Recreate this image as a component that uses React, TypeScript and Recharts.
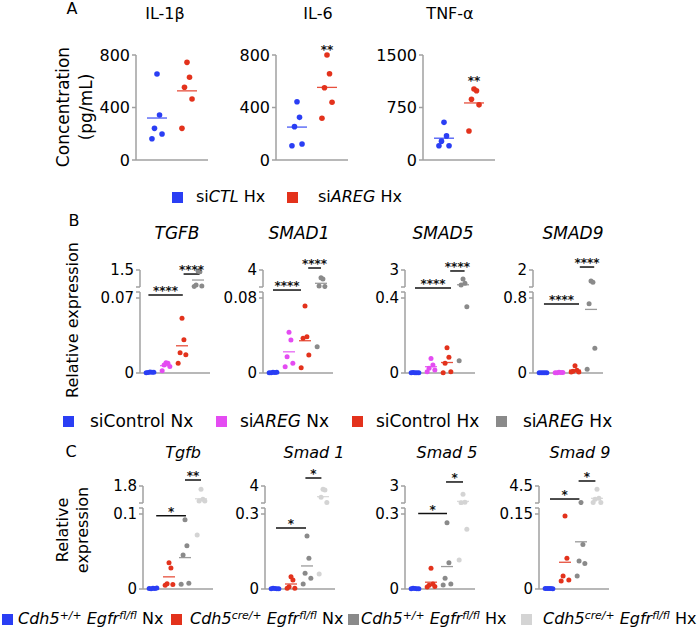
import React from 'react';
import { ScatterChart, Scatter, XAxis, YAxis, ReferenceLine, ReferenceDot } from 'recharts';

const FONT = "'DejaVu Sans', 'Liberation Sans', sans-serif";
const BLUE = '#2a3ef4';
const RED = '#e3321c';
const MAGENTA = '#e44cf2';
const GRAY = '#8a8a8a';
const LIGHT = '#d4d4d4';
const AXIS = '#a0a0a0';

// ---- Panel A: cytokines (pg/mL), siCTL Hx vs siAREG Hx
const IL1B_CTL = [655, 343, 241, 198, 162];
const IL1B_AREG = [744, 630, 554, 465, 241];
const IL6_CTL = [444, 325, 254, 122, 109];
const IL6_AREG = [800, 657, 551, 440, 318];
const TNF_CTL = [538, 344, 269, 203, 203];
const TNF_AREG = [1014, 990, 868, 788, 415];

// ---- Panel B: siControl Nx, siAREG Nx, siControl Hx, siAREG Hx
const TGFB_B = [
  [0.0009, 0.0006, 0.0004, 0.0007, 0.0003],
  [0.0096, 0.009, 0.0075, 0.006, 0.0022],
  [0.051, 0.031, 0.019, 0.017, 0.009],
  [1.416, 1.357, 0.238, 0.154, 0.112],
];
const SMAD1_B = [
  [0.0009, 0.0006, 0.0004, 0.0007, 0.0003],
  [0.0434, 0.0352, 0.0174, 0.0103, 0.0067],
  [0.0715, 0.0387, 0.037, 0.0192, 0.0057],
  [2.22, 1.92, 0.31, 0.19, 0.028],
];
const SMAD5_B = [
  [0.002, 0.001, 0.003, 0.0015, 0.001],
  [0.078, 0.043, 0.025, 0.016, 0.007],
  [0.135, 0.084, 0.052, 0.007, 0.002],
  [1.62, 0.97, 0.71, 0.354, 0.066],
];
const SMAD9_B = [
  [0.003, 0.002, 0.004, 0.002, 0.003],
  [0.008, 0.006, 0.004, 0.005, 0.003],
  [0.078, 0.03, 0.02, 0.012, 0.01],
  [1.22, 1.13, 0.74, 0.263, 0.039],
];

// ---- Panel C: Cdh5+/+ Nx, Cdh5cre/+ Nx, Cdh5+/+ Hx, Cdh5cre/+ Hx
const TGFB_C = [
  [0.001, 0.0008, 0.0005, 0.0012, 0.0006],
  [0.035, 0.028, 0.007, 0.006, 0.005],
  [0.0924, 0.0577, 0.0453, 0.0076, 0.0063],
  [1.47, 0.47, 0.3, 0.3, 0.072],
];
const SMAD1_C = [
  [0.002, 0.001, 0.003, 0.0015, 0.001],
  [0.049, 0.036, 0.009, 0.003, 0.003],
  [0.212, 0.123, 0.063, 0.043, 0.02],
  [3.28, 3.13, 1.54, 0.41, 0.06],
];
const SMAD5_C = [
  [0.002, 0.001, 0.003, 0.0015, 0.001],
  [0.083, 0.02, 0.015, 0.01, 0.008],
  [0.265, 0.105, 0.043, 0.02, 0.016],
  [1.68, 0.41, 0.33, 0.239, 0.116],
];
const SMAD9_C = [
  [0.001, 0.0008, 0.0012, 0.0006, 0.001],
  [0.146, 0.0614, 0.026, 0.018, 0.016],
  [0.25, 0.089, 0.056, 0.051, 0.026],
  [3.66, 1.35, 1.1, 0.28, 0.28],
];

// significance bars (group span, height in data units, upper/lower segment)
type Sig = { from: number; to: number; y: number; hi: boolean; label: string };
const TGFB_B_SIG: Sig[] = [
  { from: -0.1, to: 2.05, y: 0.0728, hi: false, label: '****' },
  { from: 2.1, to: 3.1, y: 1.16, hi: true, label: '****' },
];
const SMAD1_B_SIG: Sig[] = [
  { from: 0, to: 1.75, y: 0.0885, hi: false, label: '****' },
  { from: 2.2, to: 3.0, y: 4.46, hi: true, label: '****' },
];
const SMAD5_B_SIG: Sig[] = [
  { from: 0, to: 2.25, y: 0.453, hi: false, label: '****' },
  { from: 2.2, to: 3.1, y: 2.85, hi: true, label: '****' },
];
const SMAD9_B_SIG: Sig[] = [
  { from: 0.06, to: 2.25, y: 0.736, hi: false, label: '****' },
  { from: 2.3, to: 3.2, y: 2.21, hi: true, label: '****' },
];
const TGFB_C_SIG: Sig[] = [
  { from: 0.2, to: 2.06, y: 0.0977, hi: false, label: '*' },
  { from: 2.0, to: 3.0, y: 2.4, hi: true, label: '**' },
];
const SMAD1_C_SIG: Sig[] = [
  { from: 0.06, to: 1.94, y: 0.244, hi: false, label: '*' },
  { from: 1.9, to: 2.9, y: 5.74, hi: true, label: '*' },
];
const SMAD5_C_SIG: Sig[] = [
  { from: 0.2, to: 2.0, y: 0.302, hi: false, label: '*' },
  { from: 1.94, to: 3.0, y: 3.64, hi: true, label: '*' },
];
const SMAD9_C_SIG: Sig[] = [
  { from: 0.06, to: 1.9, y: 1.17, hi: true, label: '*' },
  { from: 1.85, to: 2.9, y: 5.78, hi: true, label: '*' },
];

const B_COLORS = [BLUE, MAGENTA, RED, GRAY];
const C_COLORS = [BLUE, RED, GRAY, LIGHT];

// layout
const JITTER = [0, 0.12, -0.12, 0.24, -0.24];
const A_YW = 46;
const A_PW = 72;
const A_XDOM = [-0.7, 1.7];
const B_YW = 46;
const B_PW = 70;
const B_XDOM = [-0.625, 3.75];
const LOW_EXT = 81 / 75;

const mean = (v: number[]) => v.reduce((s, x) => s + x, 0) / v.length;

const dotShape = (color: string, r: number) => (p: any) => (
  <circle cx={p.cx} cy={p.cy} r={r} fill={color} />
);
const meanShape = (color: string, w: number) => (p: any) => (
  <line x1={p.cx - w / 2} x2={p.cx + w / 2} y1={p.cy} y2={p.cy} stroke={color} strokeWidth={1.3} opacity={0.85} />
);
const starShape = (label: string) => (p: any) => (
  <text x={p.cx} y={p.cy} dy="0.56em" textAnchor="middle" fontSize={12} fontWeight={700} fill="#111">
    {label}
  </text>
);

const axisStyle = { stroke: AXIS, strokeWidth: 1.5 };

function CytokinePanel({ axisX, ctl, areg, max, ticks, star }: { axisX: number; ctl: number[]; areg: number[]; max: number; ticks: number[]; star: number | null }) {
  const series = [ctl, areg];
  const colors = [BLUE, RED];
  return (
    <div style={{ position: 'absolute', left: axisX - A_YW, top: 30 }}>
      <ScatterChart width={A_YW + A_PW + 6} height={145} margin={{ top: 25, right: 6, bottom: 14, left: 0 }}>
        <XAxis type="number" dataKey="x" domain={A_XDOM} tick={false} tickLine={false} axisLine={axisStyle} height={1} />
        <YAxis type="number" dataKey="y" domain={[0, max]} ticks={ticks} interval={0} width={A_YW} tickSize={4} tickMargin={2}
          tick={{ fontSize: 16, fill: '#000' }} axisLine={axisStyle} tickLine={axisStyle} />
        {series.map((vals, g) => (
          <Scatter key={'d' + g} data={vals.map((v, i) => ({ x: g + JITTER[i] * 0.7, y: v }))} shape={dotShape(colors[g], 2.8)} isAnimationActive={false} />
        ))}
        {series.map((vals, g) => (
          <Scatter key={'m' + g} data={[{ x: g, y: mean(vals) }]} shape={meanShape(colors[g], 20)} isAnimationActive={false} />
        ))}
        {star !== null && <ReferenceDot x={1} y={star} ifOverflow="visible" shape={starShape('**')} />}
      </ScatterChart>
    </div>
  );
}

function BrokenPanel({ axisX, top, lowMax, topVal, groups, colors, sigs }: { axisX: number; top: number; lowMax: number; topVal: number; groups: number[][]; colors: string[]; sigs: Sig[] }) {
  const domTop = lowMax * LOW_EXT;
  const width = B_YW + B_PW + 6;
  const pts = groups.map((vals, g) => vals.map((v, i) => ({ x: g + JITTER[i], y: v })));
  const means = groups.map((vals, g) => ({ x: g, y: mean(vals) }));
  const yCommon = {
    type: 'number' as const, dataKey: 'y', interval: 0 as const, width: B_YW, tickSize: 4, tickMargin: 2,
    tick: { fontSize: 15, fill: '#000' }, axisLine: axisStyle, tickLine: axisStyle,
  };
  const sigLine = (s: Sig, k: number) => (
    <ReferenceLine key={'s' + k} segment={[{ x: s.from, y: s.y }, { x: s.to, y: s.y }]} ifOverflow="visible"
      stroke="#111" strokeWidth={1.5}
      label={{ value: s.label, position: 'top', offset: 0, fontSize: 12, fontWeight: 700, fill: '#111' }} />
  );
  return (
    <>
      <div style={{ position: 'absolute', left: axisX - B_YW, top: top - 25 }}>
        <ScatterChart width={width} height={44} margin={{ top: 25, right: 6, bottom: 2, left: 0 }}>
          <XAxis type="number" dataKey="x" domain={B_XDOM} hide />
          <YAxis {...yCommon} domain={[lowMax, topVal]} ticks={[lowMax, topVal]} tickFormatter={(v: number) => (v < topVal ? '' : String(v))} />
          {pts.map((p, g) => (
            <Scatter key={'d' + g} data={p.filter((d) => d.y > domTop)} shape={dotShape(colors[g], 2.5)} isAnimationActive={false} />
          ))}
          {means.map((m, g) => (m.y > domTop ? (
            <Scatter key={'m' + g} data={[m]} shape={meanShape(colors[g], 12)} isAnimationActive={false} />
          ) : null))}
          {sigs.filter((s) => s.hi).map(sigLine)}
        </ScatterChart>
      </div>
      <div style={{ position: 'absolute', left: axisX - B_YW, top }}>
        <ScatterChart width={width} height={118} margin={{ top: 22, right: 6, bottom: 14, left: 0 }}>
          <XAxis type="number" dataKey="x" domain={B_XDOM} tick={false} tickLine={false} axisLine={axisStyle} height={1} />
          <YAxis {...yCommon} domain={[0, domTop]} ticks={[0, lowMax, domTop]} tickFormatter={(v: number) => (v > lowMax ? '' : String(v))} />
          {pts.map((p, g) => (
            <Scatter key={'d' + g} data={p.filter((d) => d.y <= domTop)} shape={dotShape(colors[g], 2.5)} isAnimationActive={false} />
          ))}
          {means.map((m, g) => (m.y <= domTop ? (
            <Scatter key={'m' + g} data={[m]} shape={meanShape(colors[g], 12)} isAnimationActive={false} />
          ) : null))}
          {sigs.filter((s) => !s.hi).map(sigLine)}
        </ScatterChart>
      </div>
    </>
  );
}

function Txt({ x, y, size, italic, children }: { x: number; y: number; size: number; italic?: boolean; children: React.ReactNode }) {
  return (
    <div style={{ position: 'absolute', left: x, top: y, transform: 'translate(-50%,-50%)', fontSize: size, fontStyle: italic ? 'italic' : 'normal', whiteSpace: 'nowrap', lineHeight: 1 }}>
      {children}
    </div>
  );
}

function VLabel({ x, y, size, lines, gap }: { x: number; y: number; size: number; lines: string[]; gap: number }) {
  return (
    <div style={{ position: 'absolute', left: x, top: y, transform: 'translate(-50%,-50%) rotate(-90deg)', fontSize: size, whiteSpace: 'nowrap', lineHeight: `${gap}px`, textAlign: 'center' }}>
      {lines.map((l) => <div key={l}>{l}</div>)}
    </div>
  );
}

function LegendItem({ sq, tx, y, color, size, children }: { sq: number; tx: number; y: number; color: string; size: number; children: React.ReactNode }) {
  return (
    <>
      <div style={{ position: 'absolute', left: sq, top: y - 5.5, width: 11, height: 11, background: color }} />
      <div style={{ position: 'absolute', left: tx, top: y, transform: 'translateY(-50%)', fontSize: size, whiteSpace: 'nowrap', lineHeight: 1 }}>
        {children}
      </div>
    </>
  );
}

const Sup = ({ children }: { children: React.ReactNode }) => (
  <span style={{ fontSize: '0.68em', verticalAlign: '0.45em', lineHeight: 0, fontStyle: 'italic' }}>{children}</span>
);
const Geno = ({ cdh, hx }: { cdh: string; hx: string }) => (
  <>
    <i>Cdh5</i><Sup>{cdh}</Sup> <i>Egfr</i><Sup>fl/fl</Sup> {hx}
  </>
);

export default function App() {
  const B_TOP = 270;
  const C_TOP = 486;
  return (
    <div style={{ position: 'absolute', left: 0, top: 0, width: 700, height: 633, background: '#fff', fontFamily: FONT, color: '#000', overflow: 'hidden' }}>
      {/* Panel A */}
      <Txt x={72} y={9} size={16}>A</Txt>
      <Txt x={165} y={14} size={16}>IL-1β</Txt>
      <Txt x={318} y={14} size={16}>IL-6</Txt>
      <Txt x={450} y={14} size={16}>TNF-α</Txt>
      <VLabel x={75} y={107} size={17} lines={['Concentration', '(pg/mL)']} gap={23} />
      <CytokinePanel axisX={136} ctl={IL1B_CTL} areg={IL1B_AREG} max={800} ticks={[0, 400, 800]} star={null} />
      <CytokinePanel axisX={276} ctl={IL6_CTL} areg={IL6_AREG} max={800} ticks={[0, 400, 800]} star={861} />
      <CytokinePanel axisX={423} ctl={TNF_CTL} areg={TNF_AREG} max={1500} ticks={[0, 750, 1500]} star={1171} />
      <LegendItem sq={172} tx={196} y={197} color={BLUE} size={16}>si<i>CTL</i> Hx</LegendItem>
      <LegendItem sq={287} tx={318} y={197} color={RED} size={16}>si<i>AREG</i> Hx</LegendItem>

      {/* Panel B */}
      <Txt x={74} y={221} size={16}>B</Txt>
      <Txt x={177} y={233} size={17} italic>TGFB</Txt>
      <Txt x={299} y={233} size={17} italic>SMAD1</Txt>
      <Txt x={443} y={233} size={17} italic>SMAD5</Txt>
      <Txt x={573} y={233} size={17} italic>SMAD9</Txt>
      <VLabel x={73} y={320} size={16} lines={['Relative expression']} gap={20} />
      <BrokenPanel axisX={140} top={B_TOP} lowMax={0.07} topVal={1.5} groups={TGFB_B} colors={B_COLORS} sigs={TGFB_B_SIG} />
      <BrokenPanel axisX={263} top={B_TOP} lowMax={0.08} topVal={4} groups={SMAD1_B} colors={B_COLORS} sigs={SMAD1_B_SIG} />
      <BrokenPanel axisX={405} top={B_TOP} lowMax={0.4} topVal={3} groups={SMAD5_B} colors={B_COLORS} sigs={SMAD5_B_SIG} />
      <BrokenPanel axisX={533} top={B_TOP} lowMax={0.8} topVal={2} groups={SMAD9_B} colors={B_COLORS} sigs={SMAD9_B_SIG} />
      <LegendItem sq={63} tx={90} y={421} color={BLUE} size={17}>siControl Nx</LegendItem>
      <LegendItem sq={216} tx={240} y={421} color={MAGENTA} size={17}>si<i>AREG</i> Nx</LegendItem>
      <LegendItem sq={352} tx={376} y={421} color={RED} size={17}>siControl Hx</LegendItem>
      <LegendItem sq={496} tx={523} y={421} color={GRAY} size={17}>si<i>AREG</i> Hx</LegendItem>

      {/* Panel C */}
      <Txt x={71} y={452} size={16}>C</Txt>
      <Txt x={183} y={453} size={16} italic>Tgfb</Txt>
      <Txt x={314} y={453} size={16} italic>Smad 1</Txt>
      <Txt x={447} y={453} size={16} italic>Smad 5</Txt>
      <Txt x={580} y={453} size={16} italic>Smad 9</Txt>
      <VLabel x={73} y={530} size={16} lines={['Relative', 'expression']} gap={20} />
      <BrokenPanel axisX={143} top={C_TOP} lowMax={0.1} topVal={1.8} groups={TGFB_C} colors={C_COLORS} sigs={TGFB_C_SIG} />
      <BrokenPanel axisX={265} top={C_TOP} lowMax={0.3} topVal={4} groups={SMAD1_C} colors={C_COLORS} sigs={SMAD1_C_SIG} />
      <BrokenPanel axisX={405} top={C_TOP} lowMax={0.3} topVal={3} groups={SMAD5_C} colors={C_COLORS} sigs={SMAD5_C_SIG} />
      <BrokenPanel axisX={539} top={C_TOP} lowMax={0.15} topVal={4.5} groups={SMAD9_C} colors={C_COLORS} sigs={SMAD9_C_SIG} />
      <LegendItem sq={2} tx={18} y={619} color={BLUE} size={16}><Geno cdh="+/+" hx="Nx" /></LegendItem>
      <LegendItem sq={171} tx={190} y={619} color={RED} size={16}><Geno cdh="cre/+" hx="Nx" /></LegendItem>
      <LegendItem sq={348} tx={361} y={619} color={GRAY} size={16}><Geno cdh="+/+" hx="Hx" /></LegendItem>
      <LegendItem sq={521} tx={543} y={619} color={LIGHT} size={16}><Geno cdh="cre/+" hx="Hx" /></LegendItem>
    </div>
  );
}
